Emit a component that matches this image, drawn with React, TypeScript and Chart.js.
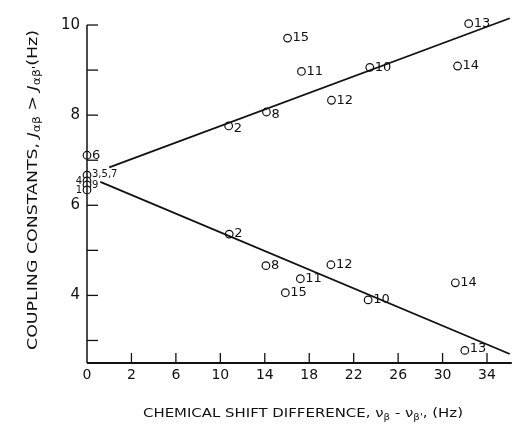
import React, { useEffect, useRef } from "react";
import { Chart, registerables } from "chart.js";

Chart.register(...registerables);

// ---- data ----
const AXIS_START = -2; // left end of the x axis, labelled "0"
const X_TICK_VALUES = [-2, 2, 6, 10, 14, 18, 22, 26, 30, 34];
const X_TICK_LABELS = ["0", "2", "6", "10", "14", "18", "22", "26", "30", "34"];
const Y_TICK_VALUES = [4, 6, 8, 10];
const Y_MINOR_TICKS = [3, 4, 5, 6, 7, 8, 9, 10];
const X_MINOR_TICKS = [2, 6, 10, 14, 18, 22, 26, 30, 34];

// J(alpha,beta) larger coupling constants
const upperIds = ["15", "11", "10", "13", "14", "12", "8", "2", "6"];
const upperX = [16.05, 17.3, 23.45, 32.35, 31.35, 20.0, 14.15, 10.75, AXIS_START];
const upperY = [9.71, 8.97, 9.06, 10.03, 9.09, 8.33, 8.07, 7.76, 7.11];

// J(alpha,beta') smaller coupling constants
const lowerIds = ["2", "8", "12", "11", "15", "10", "14", "13"];
const lowerX = [10.8, 14.1, 19.95, 17.2, 15.85, 23.3, 31.15, 32.0];
const lowerY = [5.36, 4.66, 4.68, 4.37, 4.06, 3.9, 4.28, 2.78];

// compounds with zero chemical shift difference
const clusterIds = ["3,5,7", "4", "9", "1"];
const clusterX = [AXIS_START, AXIS_START, AXIS_START, AXIS_START];
const clusterY = [6.67, 6.54, 6.45, 6.34];

// fitted lines (end points)
const upperFitX = [0, 36.05];
const upperFitY = [6.84, 10.15];
const lowerFitX = [-0.8, 36.05];
const lowerFitY = [6.52, 2.7];

const X_MIN = AXIS_START;
const X_MAX = 36.05;
const Y_MIN = 2.5;
const Y_MAX = 10.2;
const Y_AXIS_TOP = 10;

const FONT = "'DejaVu Sans', sans-serif";

const toPts = (xs: number[], ys: number[]) => xs.map((x, i) => ({ x, y: ys[i] }));

type Seg = { t: string; kind: "n" | "i" | "s" };

function drawRich(ctx: CanvasRenderingContext2D, segs: Seg[], size: number, target: number) {
  const fontFor = (k: string) =>
    k === "i"
      ? `italic ${size}px ${FONT}`
      : k === "s"
      ? `${Math.round(size * 0.72)}px ${FONT}`
      : `${size}px ${FONT}`;
  let total = 0;
  const widths = segs.map((s) => {
    ctx.font = fontFor(s.kind);
    const w = ctx.measureText(s.t).width;
    total += w;
    return w;
  });
  ctx.save();
  ctx.scale(target / total, 1);
  let x = -total / 2;
  segs.forEach((s, i) => {
    ctx.font = fontFor(s.kind);
    ctx.fillText(s.t, x, s.kind === "s" ? size * 0.3 : 0);
    x += widths[i];
  });
  ctx.restore();
}

const decorPlugin = {
  id: "decor",
  afterDraw(chart: any) {
    const ctx: CanvasRenderingContext2D = chart.ctx;
    const xs = chart.scales.x;
    const ys = chart.scales.y;
    const x0 = xs.getPixelForValue(X_MIN);
    const x1 = xs.getPixelForValue(X_MAX);
    const yb = ys.getPixelForValue(Y_MIN);
    const yt = ys.getPixelForValue(Y_AXIS_TOP);
    ctx.save();
    ctx.strokeStyle = "#111";
    ctx.lineCap = "butt";
    // axes
    ctx.lineWidth = 1.5;
    ctx.beginPath();
    ctx.moveTo(x0, yb);
    ctx.lineTo(x0, yt);
    ctx.stroke();
    ctx.lineWidth = 2;
    ctx.beginPath();
    ctx.moveTo(x0, yb);
    ctx.lineTo(x1 + 2, yb);
    ctx.stroke();
    // inward ticks
    ctx.lineWidth = 1.3;
    Y_MINOR_TICKS.forEach((v) => {
      const p = ys.getPixelForValue(v);
      ctx.beginPath();
      ctx.moveTo(x0, p);
      ctx.lineTo(x0 + 11, p);
      ctx.stroke();
    });
    X_MINOR_TICKS.forEach((v) => {
      const p = xs.getPixelForValue(v);
      ctx.beginPath();
      ctx.moveTo(p, yb);
      ctx.lineTo(p, yb - 10);
      ctx.stroke();
    });

    // point labels
    ctx.fillStyle = "#111";
    ctx.font = `13px ${FONT}`;
    ctx.textBaseline = "middle";
    const label = (id: string, x: number, y: number, left = false, dy = 1) => {
      const px = xs.getPixelForValue(x);
      const py = ys.getPixelForValue(y);
      ctx.textAlign = left ? "right" : "left";
      ctx.fillText(id, left ? px - 5 : px + 5, py + dy);
    };
    upperIds.forEach((id, i) => label(id, upperX[i], upperY[i], false, id === "2" || id === "8" ? 3 : 0));
    lowerIds.forEach((id, i) => label(id, lowerX[i], lowerY[i], false, id === "13" ? -2 : 0));
    ctx.font = `10px ${FONT}`;
    clusterIds.forEach((id, i) => {
      const left = id === "4" || id === "1";
      label(id, clusterX[i], clusterY[i], left, id === "3,5,7" ? -1 : 0);
    });

    // axis titles
    ctx.textAlign = "left";
    ctx.textBaseline = "middle";
    ctx.save();
    ctx.translate(33, 190);
    ctx.rotate(-Math.PI / 2);
    drawRich(
      ctx,
      [
        { t: "COUPLING CONSTANTS, ", kind: "n" },
        { t: "J", kind: "i" },
        { t: "αβ", kind: "s" },
        { t: " > ", kind: "n" },
        { t: "J", kind: "i" },
        { t: "αβ'", kind: "s" },
        { t: "(Hz)", kind: "n" },
      ],
      14,
      320
    );
    ctx.restore();
    ctx.save();
    ctx.translate(303, 414);
    drawRich(
      ctx,
      [
        { t: "CHEMICAL SHIFT DIFFERENCE, ", kind: "n" },
        { t: "ν", kind: "n" },
        { t: "β", kind: "s" },
        { t: " - ", kind: "n" },
        { t: "ν", kind: "n" },
        { t: "β'", kind: "s" },
        { t: ", (Hz)", kind: "n" },
      ],
      13,
      320
    );
    ctx.restore();
    ctx.restore();
  },
};

export default function App() {
  const ref = useRef<HTMLCanvasElement | null>(null);
  useEffect(() => {
    if (!ref.current) return;
    const pointStyle = {
      showLine: false,
      clip: false,
      pointRadius: 3.8,
      pointBorderWidth: 1.2,
      pointBorderColor: "#111",
      pointBackgroundColor: "#fff",
    };
    const lineStyle = {
      showLine: true,
      clip: false,
      pointRadius: 0,
      borderColor: "#111",
      borderWidth: 1.8,
    };
    const chart = new Chart(ref.current, {
      type: "scatter",
      data: {
        datasets: [
          { label: "upper fit", data: toPts(upperFitX, upperFitY), ...lineStyle },
          { label: "lower fit", data: toPts(lowerFitX, lowerFitY), ...lineStyle },
          { label: "J αβ", data: toPts(upperX, upperY), ...pointStyle },
          { label: "J αβ'", data: toPts(lowerX, lowerY), ...pointStyle },
          { label: "Δν = 0", data: toPts(clusterX, clusterY), ...pointStyle },
        ],
      },
      options: {
        animation: false,
        responsive: true,
        maintainAspectRatio: false,
        layout: { padding: { top: 14, right: 2, left: 0, bottom: 0 } },
        plugins: { legend: { display: false }, tooltip: { enabled: false } },
        scales: {
          x: {
            type: "linear",
            min: X_MIN,
            max: X_MAX,
            grid: { display: false, drawTicks: false },
            border: { display: false },
            afterBuildTicks: (s: any) => {
              s.ticks = X_TICK_VALUES.map((v) => ({ value: v }));
            },
            afterFit: (s: any) => {
              s.height = 69;
            },
            ticks: {
              padding: 4,
              color: "#111",
              font: { family: FONT, size: 14 },
              maxRotation: 0,
              autoSkip: false,
              callback: (v: any) => {
                const i = X_TICK_VALUES.indexOf(Number(v));
                return i >= 0 ? X_TICK_LABELS[i] : "";
              },
            },
          },
          y: {
            type: "linear",
            min: Y_MIN,
            max: Y_MAX,
            grid: { display: false, drawTicks: false },
            border: { display: false },
            afterBuildTicks: (s: any) => {
              s.ticks = Y_TICK_VALUES.map((v) => ({ value: v }));
            },
            afterFit: (s: any) => {
              s.width = 87;
            },
            ticks: {
              padding: 7,
              color: "#111",
              font: { family: FONT, size: 15 },
              autoSkip: false,
              callback: (v: any) => String(v),
            },
          },
        },
      },
      plugins: [decorPlugin],
    } as any);
    return () => chart.destroy();
  }, []);
  return (
    <div style={{ position: "absolute", left: 0, top: 0, width: 515, height: 432, background: "#fff" }}>
      <canvas ref={ref} />
    </div>
  );
}
